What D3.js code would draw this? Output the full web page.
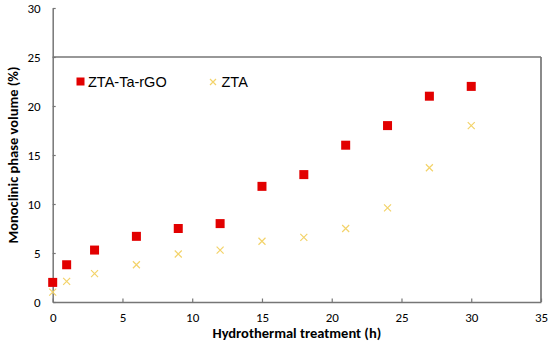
<!DOCTYPE html>
<html>
<head>
<meta charset="utf-8">
<script src="https://cdn.jsdelivr.net/npm/d3@7"></script>
<style>
  body { margin: 0; background: #fff; }
  svg { display: block; }
</style>
</head>
<body>
<div id="chart"></div>
<script>
// data
const hours = [0, 1, 3, 6, 9, 12, 15, 18, 21, 24, 27, 30];
const rgoValues = [2, 3.8, 5.3, 6.7, 7.5, 8, 11.8, 13, 16, 18, 21, 22];
const ztaValues = [1, 2.1, 2.9, 3.8, 4.9, 5.3, 6.2, 6.6, 7.5, 9.6, 13.7, 18];
const xTicks = [0, 5, 10, 15, 20, 25, 30, 35];
const yTicks = [0, 5, 10, 15, 20, 25, 30];
const seriesNames = ["ZTA-Ta-rGO", "ZTA"];

const width = 550, height = 346;
const plotLeft = 52.7, plotRight = 541, plotTop = 8, plotBottom = 302;
const axisColor = "#767676";
const red = "#e20000";
const gold = "#f3d36a";

const svg = d3.select("#chart").append("svg")
    .attr("width", width)
    .attr("height", height);

const x = d3.scaleLinear().domain([0, 35]).range([plotLeft, plotRight]);
const y = d3.scaleLinear().domain([0, 30]).range([plotBottom, plotTop]);

// axes, ticks drawn inside
const xAxis = svg.append("g")
    .attr("transform", `translate(0,${plotBottom})`)
    .call(d3.axisBottom(x).tickValues(xTicks).tickSizeInner(-3.5).tickSizeOuter(0).tickPadding(11));
const yAxis = svg.append("g")
    .attr("transform", `translate(${plotLeft},0)`)
    .call(d3.axisLeft(y).tickValues(yTicks).tickSizeInner(-3).tickSizeOuter(0).tickPadding(12));

[xAxis, yAxis].forEach(a => {
    a.select(".domain").attr("stroke", axisColor).attr("stroke-width", 1.5);
    a.selectAll(".tick line").attr("stroke", axisColor).attr("stroke-width", 1.2);
    a.selectAll(".tick text")
        .attr("fill", "#000")
        .style("font-family", "Carlito, Lato, 'Open Sans', sans-serif")
        .style("font-size", "13px");
});
yAxis.selectAll(".tick text").attr("dy", "0.36em");
xAxis.selectAll(".tick text").attr("dy", "0.7em");

// frame line at 25 and right border
svg.append("line")
    .attr("x1", x(0)).attr("x2", x(35))
    .attr("y1", y(25)).attr("y2", y(25))
    .attr("stroke", axisColor).attr("stroke-width", 1.5);
svg.append("line")
    .attr("x1", x(35)).attr("x2", x(35))
    .attr("y1", y(25)).attr("y2", y(0))
    .attr("stroke", axisColor).attr("stroke-width", 1.7);

// ZTA crosses
const cross = 3.5;
function drawCross(g, cx, cy, s) {
    g.append("path")
        .attr("d", `M${cx - s},${cy - s}L${cx + s},${cy + s}M${cx - s},${cy + s}L${cx + s},${cy - s}`)
        .attr("stroke", gold).attr("stroke-width", 1.2).attr("fill", "none");
}
const zta = svg.append("g");
hours.forEach((h, i) => drawCross(zta, x(h), y(ztaValues[i]), cross));

// ZTA-Ta-rGO squares
const sq = 9;
svg.append("g").selectAll("rect")
    .data(hours)
    .join("rect")
    .attr("x", (d, i) => x(d) - sq / 2)
    .attr("y", (d, i) => y(rgoValues[i]) - sq / 2)
    .attr("width", sq).attr("height", sq)
    .attr("fill", red);

// legend
const lg = svg.append("g")
    .style("font-family", "Arial, 'Liberation Sans', sans-serif")
    .style("font-size", "14.5px");
lg.append("rect").attr("x", 76.5).attr("y", 77.5).attr("width", 8).attr("height", 8).attr("fill", red);
lg.append("text").attr("x", 88).attr("y", 86.7).text(seriesNames[0]);
drawCross(lg, 213, 82, 3);
lg.append("text").attr("x", 221.5).attr("y", 86.7).text(seriesNames[1]);

// axis titles
svg.append("text")
    .attr("x", (plotLeft + plotRight) / 2).attr("y", 338)
    .attr("text-anchor", "middle")
    .style("font-family", "Carlito, Lato, 'Open Sans', sans-serif")
    .style("font-weight", "bold").style("font-size", "14.5px")
    .text("Hydrothermal treatment (h)");
svg.append("text")
    .attr("transform", `translate(17.5,${(plotTop + plotBottom) / 2}) rotate(-90)`)
    .attr("text-anchor", "middle")
    .style("font-family", "Carlito, Lato, 'Open Sans', sans-serif")
    .style("font-weight", "bold").style("font-size", "14.5px")
    .text("Monoclinic phase volume (%)");
</script>
</body>
</html>
